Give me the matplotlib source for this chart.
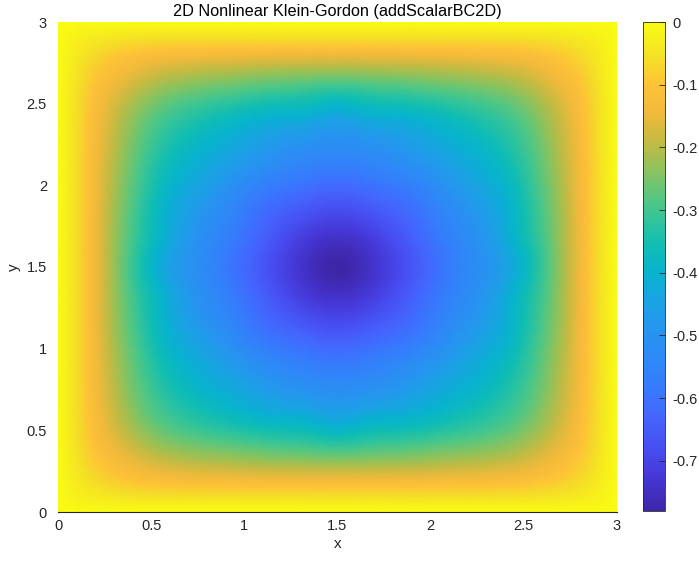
import numpy as np
import matplotlib
matplotlib.use('Agg')
import matplotlib.pyplot as plt
import matplotlib.tri as mtri
from matplotlib.colors import LinearSegmentedColormap

plt.rcParams['font.family'] = ['Liberation Sans', 'DejaVu Sans']

# grid nodes for one quarter of the square (0..1.5), mirrored for the rest
quarter_nodes = [0.0, 0.1, 0.2, 0.3, 0.45, 0.6, 0.8, 1.0, 1.2, 1.35, 1.5]

# field values, lower-left quarter (rows = y, cols = x)
quarter_values = [
    [0, 0, 0, 0, 0, 0, 0, 0, 0, 0, 0],
    [0, -0.022, -0.036, -0.045, -0.054, -0.058, -0.059, -0.060, -0.060, -0.060, -0.060],
    [0, -0.036, -0.065, -0.087, -0.110, -0.123, -0.131, -0.135, -0.139, -0.140, -0.140],
    [0, -0.045, -0.087, -0.118, -0.157, -0.182, -0.199, -0.210, -0.219, -0.223, -0.225],
    [0, -0.054, -0.110, -0.157, -0.215, -0.256, -0.286, -0.308, -0.325, -0.335, -0.350],
    [0, -0.058, -0.123, -0.182, -0.256, -0.308, -0.353, -0.391, -0.415, -0.428, -0.450],
    [0, -0.059, -0.131, -0.199, -0.286, -0.353, -0.411, -0.456, -0.507, -0.530, -0.540],
    [0, -0.060, -0.135, -0.210, -0.308, -0.391, -0.456, -0.534, -0.585, -0.606, -0.620],
    [0, -0.060, -0.139, -0.219, -0.325, -0.415, -0.507, -0.585, -0.649, -0.684, -0.700],
    [0, -0.060, -0.140, -0.223, -0.335, -0.428, -0.530, -0.606, -0.684, -0.729, -0.750],
    [0, -0.060, -0.140, -0.225, -0.350, -0.450, -0.540, -0.620, -0.700, -0.750, -0.780],
]

axis_ticks = [0, 0.5, 1, 1.5, 2, 2.5, 3]
axis_tick_labels = ['0', '0.5', '1', '1.5', '2', '2.5', '3']
cbar_ticks = [0, -0.1, -0.2, -0.3, -0.4, -0.5, -0.6, -0.7]
cbar_tick_labels = ['0', '-0.1', '-0.2', '-0.3', '-0.4', '-0.5', '-0.6', '-0.7']
v_min, v_max = -0.78, 0.0

# parula-like colormap anchors
PARULA_ANCHORS = [
    (0.00, (0.243, 0.150, 0.660)),
    (0.07, (0.272, 0.218, 0.844)),
    (0.13, (0.281, 0.310, 0.948)),
    (0.19, (0.268, 0.395, 0.992)),
    (0.25, (0.215, 0.480, 0.990)),
    (0.31, (0.180, 0.540, 0.965)),
    (0.37, (0.150, 0.585, 0.940)),
    (0.43, (0.100, 0.640, 0.890)),
    (0.49, (0.030, 0.705, 0.805)),
    (0.54, (0.060, 0.740, 0.710)),
    (0.59, (0.180, 0.765, 0.620)),
    (0.64, (0.330, 0.780, 0.510)),
    (0.70, (0.560, 0.760, 0.360)),
    (0.76, (0.780, 0.730, 0.260)),
    (0.82, (0.950, 0.730, 0.230)),
    (0.87, (0.995, 0.760, 0.220)),
    (0.93, (0.960, 0.880, 0.150)),
    (1.00, (0.977, 0.984, 0.080)),
]
parula = LinearSegmentedColormap.from_list('parula', PARULA_ANCHORS, N=256)

# mirror the quarter into the full square
q = np.array(quarter_nodes)
nodes = np.concatenate([q, 3.0 - q[::-1][1:]])
Q = np.array(quarter_values)
half = np.hstack([Q, Q[:, ::-1][:, 1:]])
field = np.vstack([half, half[::-1][1:]])
X, Y = np.meshgrid(nodes, nodes)

# smooth shading, like MATLAB's "shading interp"
triang = mtri.Triangulation(X.ravel(), Y.ravel())
refiner = mtri.UniformTriRefiner(triang)
tri_fine, field_fine = refiner.refine_field(field.ravel(), subdiv=3)

W, H = 699, 561
fig = plt.figure(figsize=(W / 100, H / 100), dpi=100)
ax = fig.add_axes([58 / W, (H - 512) / H, 559 / W, 490 / H])
cax = fig.add_axes([643 / W, (H - 511) / H, 22 / W, 489 / H])

mesh = ax.tripcolor(tri_fine, field_fine, cmap=parula, vmin=v_min, vmax=v_max, shading='gouraud')
ax.set_xlim(0, 3)
ax.set_ylim(0, 3)
ax.set_xticks(axis_ticks)
ax.set_xticklabels(axis_tick_labels)
ax.set_yticks(axis_ticks)
ax.set_yticklabels(axis_tick_labels)
ax.tick_params(length=0, labelsize=10.5, labelcolor='#262626')
ax.tick_params(axis='x', pad=5)
ax.tick_params(axis='y', pad=8)
for side in ['top', 'right', 'left']:
    ax.spines[side].set_visible(False)
ax.spines['bottom'].set_color('#262626')
ax.spines['bottom'].set_linewidth(0.8)
ax.set_xlabel('x', fontsize=11, color='#262626', labelpad=3)
ax.set_ylabel('y', fontsize=11, color='#262626', labelpad=4)
ax.set_title('2D Nonlinear Klein-Gordon (addScalarBC2D)', fontsize=11.7, pad=4)

cbar = fig.colorbar(mesh, cax=cax)
cbar.set_ticks(cbar_ticks)
cbar.set_ticklabels(cbar_tick_labels)
cbar.ax.tick_params(direction='in', length=4, width=0.6, color='#262626',
                    labelsize=10.5, labelcolor='#262626', pad=5)
cbar.outline.set_edgecolor('#262626')
cbar.outline.set_linewidth(0.6)

plt.savefig('out.png', dpi=100)
plt.close(fig)
